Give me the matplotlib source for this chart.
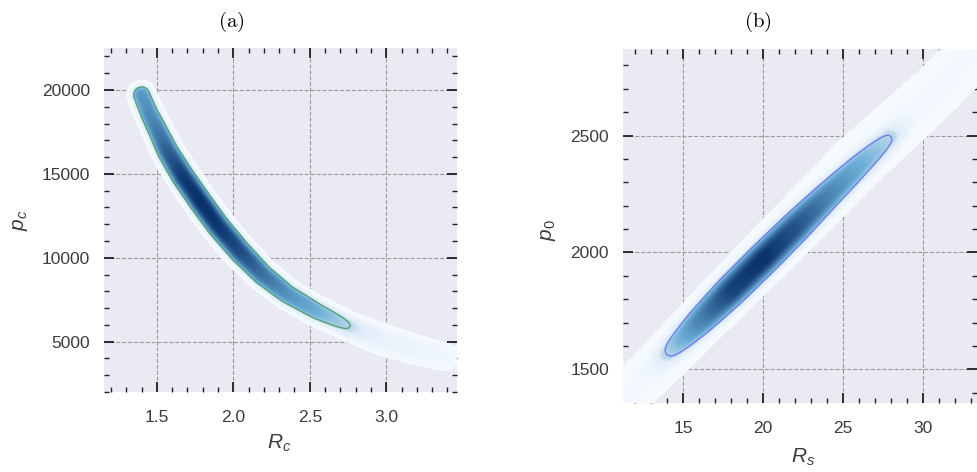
import numpy as np
import matplotlib.pyplot as plt
from matplotlib.colors import LinearSegmentedColormap
from matplotlib.ticker import MultipleLocator

plt.rcParams['font.family'] = ['Liberation Sans', 'DejaVu Sans']
plt.rcParams['mathtext.fontset'] = 'custom'
plt.rcParams['mathtext.rm'] = 'Liberation Sans'
plt.rcParams['mathtext.it'] = 'Liberation Sans:italic'

# (a) ridge of the R_c / p_c density
rc_ridge = [1.40, 1.45, 1.51, 1.57, 1.67, 1.78, 1.90, 2.04, 2.19, 2.35, 2.55, 2.76, 2.97, 3.18, 3.38]
pc_ridge = [19700, 18600, 17500, 16350, 14850, 13400, 11900, 10400, 9000, 7850, 6800, 5900, 5150, 4550, 4100]
a_peak = [0.55, 0.6, 0.68, 0.8, 0.95, 1.0, 0.97, 0.88, 0.72, 0.58, 0.45, 0.3, 0.16, 0.11, 0.08]
a_width = [7.5, 7.7, 8.0, 8.3, 8.5, 8.5, 8.5, 8.5, 8.3, 8.0, 8.0, 8.0, 9.0, 9.0, 9.0]  # px

# (b) core and halo of the R_s / p_0 density
rs_core = [13.0, 14.0, 16.0, 18.0, 20.0, 22.0, 24.0, 26.0, 28.0, 29.0]
p0_core = [1495, 1565, 1700, 1835, 1970, 2105, 2240, 2370, 2495, 2560]
b_peak = [0.1, 0.3, 0.62, 0.92, 1.0, 0.85, 0.64, 0.46, 0.3, 0.12]
b_width = [9.0, 10.0, 11.5, 12.0, 12.0, 12.0, 11.5, 11.0, 10.0, 9.0]

rs_halo = [10.5, 12.9, 20.0, 26.0, 31.0, 34.0]
p0_halo = [1330, 1480, 1975, 2390, 2700, 2910]
halo_peak = [0.04, 0.05, 0.06, 0.055, 0.045, 0.04]
halo_width = [14, 14, 15, 16, 16, 16]

contour_level = 0.3


def ridge_density(X, Y, rx, ry, peak, width, sx, sy, power=3.0):
    # density falling off with pixel distance from a polyline ridge
    px, py = X / sx, Y / sy
    out = np.zeros_like(X)
    for i in range(len(rx) - 1):
        x0, y0 = rx[i] / sx, ry[i] / sy
        dx, dy = rx[i + 1] / sx - x0, ry[i + 1] / sy - y0
        t = np.clip(((px - x0) * dx + (py - y0) * dy) / (dx * dx + dy * dy), 0, 1)
        d = np.hypot(px - (x0 + t * dx), py - (y0 + t * dy))
        a = peak[i] + t * (peak[i + 1] - peak[i])
        w = width[i] + t * (width[i + 1] - width[i])
        out = np.maximum(out, a * np.exp(-0.5 * (d / w) ** power))
    return out


blues = plt.get_cmap('Blues')
kde_cmap = LinearSegmentedColormap.from_list(
    'kde', [(0.0, blues(0.0)), (0.25, blues(0.12)), (0.3, blues(0.3)), (0.45, blues(0.5)), (1.0, blues(1.0))])

fig = plt.figure(figsize=(9.77, 4.72), dpi=100)
ax1 = fig.add_axes([104 / 977, 1 - 392 / 472, 353 / 977, 344 / 472])
ax2 = fig.add_axes([623 / 977, 1 - 403 / 472, 354 / 977, 354 / 472])

levels = np.linspace(0.012, 1.001, 80)

# panel (a)
xa = np.linspace(1.154, 3.463, 500)
ya = np.linspace(2000, 22500, 500)
XA, YA = np.meshgrid(xa, ya)
DA = ridge_density(XA, YA, rc_ridge, pc_ridge, a_peak, a_width, 0.5 / 76.7, 5000 / 84)
ax1.contourf(XA, YA, DA, levels=levels, cmap=kde_cmap, vmin=0, vmax=1)
ax1.contour(XA, YA, DA, levels=[contour_level], colors='#4f9f6a', linewidths=0.9)
ax1.set_xlim(1.154, 3.463)
ax1.set_ylim(2000, 22500)
ax1.xaxis.set_major_locator(MultipleLocator(0.5))
ax1.xaxis.set_minor_locator(MultipleLocator(0.1))
ax1.yaxis.set_major_locator(MultipleLocator(5000))
ax1.yaxis.set_minor_locator(MultipleLocator(1000))

# panel (b)
xb = np.linspace(11.25, 33.4, 500)
yb = np.linspace(1356, 2870, 500)
XB, YB = np.meshgrid(xb, yb)
sxb, syb = 5 / 80, 500 / 117
DB = np.maximum(ridge_density(XB, YB, rs_core, p0_core, b_peak, b_width, sxb, syb),
                ridge_density(XB, YB, rs_halo, p0_halo, halo_peak, halo_width, sxb, syb, power=2.0))
ax2.contourf(XB, YB, DB, levels=levels, cmap=kde_cmap, vmin=0, vmax=1)
ax2.contour(XB, YB, DB, levels=[contour_level], colors='#6a78ee', linewidths=0.9)
ax2.set_xlim(11.25, 33.4)
ax2.set_ylim(1356, 2870)
ax2.xaxis.set_major_locator(MultipleLocator(5))
ax2.xaxis.set_minor_locator(MultipleLocator(1))
ax2.yaxis.set_major_locator(MultipleLocator(500))
ax2.yaxis.set_minor_locator(MultipleLocator(100))

for ax in (ax1, ax2):
    ax.set_facecolor('#EAEAF2')
    for s in ax.spines.values():
        s.set_visible(False)
    ax.set_axisbelow(True)
    ax.grid(True, which='major', color='#9a9a9a', linestyle='--', linewidth=0.8)
    ax.tick_params(which='both', direction='in', top=True, right=True, colors='#222222',
                   labelcolor='#3c3c3c', labelsize=12.5)
    ax.tick_params(axis='y', pad=10)
    ax.tick_params(axis='x', pad=13)
    ax.tick_params(which='major', length=7, width=1.3)
    ax.tick_params(which='minor', length=3.5, width=1.0)

fig.text(231 / 977, 1 - 22 / 472, r'$\mathrm{(a)}$', math_fontfamily='cm', ha='center', va='center', fontsize=15)
fig.text(758 / 977, 1 - 22 / 472, r'$\mathrm{(b)}$', math_fontfamily='cm', ha='center', va='center', fontsize=15)
fig.text(279 / 977, 1 - 443 / 472, r'$R_c$', ha='center', va='center', fontsize=15, color='#3c3c3c')
fig.text(20 / 977, 1 - 220 / 472, r'$p_c$', ha='center', va='center', rotation=90, fontsize=15, color='#3c3c3c')
fig.text(803 / 977, 1 - 457 / 472, r'$R_s$', ha='center', va='center', fontsize=15, color='#3c3c3c')
fig.text(548 / 977, 1 - 230 / 472, r'$p_0$', ha='center', va='center', rotation=90, fontsize=15, color='#3c3c3c')

fig.savefig('out.png', dpi=100)
